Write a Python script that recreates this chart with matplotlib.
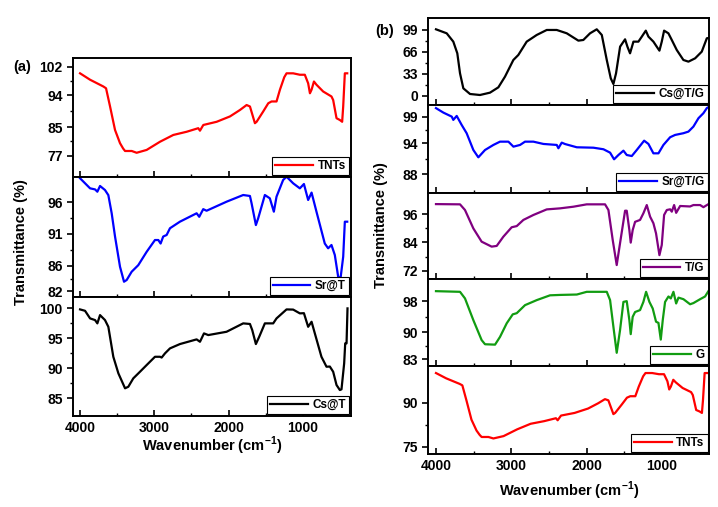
import numpy as np
import matplotlib.pyplot as plt
from matplotlib.ticker import FixedLocator, MultipleLocator

plt.rcParams['font.family'] = ['Liberation Sans', 'DejaVu Sans']
plt.rcParams['font.weight'] = 'bold'
plt.rcParams['mathtext.fontset'] = 'custom'
plt.rcParams['mathtext.bf'] = 'Liberation Sans:bold'

# espectros FTIR (numero de onda, transmitancia)
tnts_wn = [4000, 3865, 3686, 3650, 3596, 3529, 3462, 3420, 3394, 3304, 3238, 3103, 2923, 2744, 2564, 2408,
           2385, 2340, 2160, 1981, 1847, 1757, 1712, 1645, 1622, 1533, 1465, 1421, 1354, 1308, 1250, 1219,
           1130, 1040, 973, 928, 904, 882, 850, 816, 726, 614, 591, 546, 501, 470, 456, 434, 402]
tnts_t = [100.1, 98.3, 96.4, 95.9, 90.8, 84.2, 80.5, 79.0, 78.3, 78.3, 77.8, 78.6, 80.9, 82.8, 83.7, 84.7,
          84.0, 85.6, 86.5, 88.0, 89.8, 91.2, 90.8, 86.1, 86.5, 89.4, 91.7, 92.2, 92.2, 95.5, 99.0, 100.1,
          100.1, 99.7, 99.7, 97.3, 94.5, 95.5, 97.8, 96.9, 95.0, 93.6, 92.6, 87.5, 87.0, 86.5, 90.8, 100.1,
          100.1]

sr_wn = [4000, 3865, 3798, 3767, 3731, 3664, 3619, 3574, 3529, 3462, 3408, 3372, 3305, 3216, 3103, 2991,
         2946, 2915, 2880, 2834, 2789, 2655, 2430, 2395, 2341, 2296, 2027, 1803, 1712, 1690, 1632, 1601,
         1511, 1444, 1390, 1354, 1265, 1219, 1130, 1040, 985, 928, 882, 816, 704, 659, 614, 569, 524, 492,
         456, 434, 402]
sr_t = [99.75, 98.17, 98.0, 97.64, 98.54, 97.9, 97.1, 94.25, 90.6, 85.86, 83.5, 83.77, 85.07, 86.1, 88.2,
        90.05, 90.05, 89.5, 90.6, 90.84, 91.9, 92.93, 94.25, 93.7, 94.9, 94.65, 96.07, 97.12, 96.97, 95.82,
        92.4, 93.46, 97.12, 96.6, 94.5, 96.86, 99.48, 100.0, 98.96, 98.17, 98.85, 96.34, 97.5, 94.5, 89.5,
        88.75, 89.27, 87.7, 84.3, 84.04, 87.43, 92.93, 92.93]

cs_wn = [4000, 3933, 3865, 3798, 3767, 3731, 3664, 3619, 3552, 3484, 3394, 3350, 3283, 3193, 3103, 2991,
         2923, 2901, 2856, 2789, 2655, 2430, 2385, 2331, 2273, 2027, 1803, 1712, 1681, 1632, 1587, 1511,
         1399, 1354, 1219, 1130, 1040, 985, 928, 882, 838, 749, 681, 636, 591, 546, 501, 479, 443, 429,
         411, 398]
cs_t = [99.83, 99.6, 98.33, 98.05, 97.5, 98.88, 98.05, 96.93, 91.93, 89.17, 86.67, 86.93, 88.33, 89.43,
        90.55, 91.93, 91.93, 91.8, 92.5, 93.33, 94.05, 94.83, 94.43, 95.83, 95.55, 96.1, 97.5, 97.4, 96.38,
        94.05, 95.27, 97.5, 97.5, 98.33, 99.83, 99.8, 99.17, 99.2, 96.93, 97.77, 95.83, 91.93, 90.27, 90.3,
        89.43, 87.22, 86.38, 86.5, 90.83, 94.17, 94.17, 100.0]

csg_wn = [4000, 3858, 3770, 3717, 3681, 3637, 3548, 3416, 3283, 3172, 3084, 2973, 2907, 2796, 2663, 2530,
          2397, 2264, 2110, 2044, 1955, 1866, 1799, 1733, 1680, 1645, 1610, 1556, 1490, 1459, 1424, 1379,
          1313, 1268, 1215, 1180, 1114, 1070, 1034, 1003, 972, 915, 870, 804, 716, 649, 560, 472, 405, 383]
csg_t = [100, 94, 81.5, 64, 34, 11.5, 3, 1.5, 5, 13, 29, 54, 61.5, 81.5, 91.5, 99, 99, 94, 83, 84, 94, 100,
         91.5, 54, 26.5, 18, 34, 74, 85, 74, 64, 81.5, 81.5, 89, 98, 89, 81.5, 74, 68, 81.5, 98, 94, 84, 69,
         54, 51.5, 56.5, 66.5, 86.5, 87]

srg_wn = [4000, 3902, 3791, 3770, 3725, 3659, 3593, 3504, 3438, 3349, 3238, 3150, 3039, 2972, 2884, 2818,
          2707, 2574, 2397, 2375, 2331, 2286, 2131, 1910, 1777, 1689, 1636, 1578, 1512, 1468, 1401, 1335,
          1237, 1180, 1114, 1047, 981, 892, 826, 716, 649, 583, 516, 450, 405, 383]
srg_t = [100.7, 99.84, 99.07, 98.44, 99.2, 97.47, 95.88, 92.66, 91.25, 92.66, 93.63, 94.26, 94.26, 93.3,
         93.63, 94.26, 94.26, 93.82, 93.63, 92.99, 94.07, 93.8, 93.18, 93.1, 92.8, 92.15, 90.87, 91.7,
         92.53, 91.7, 91.5, 92.66, 94.45, 93.82, 92.02, 92.02, 93.63, 95.11, 95.55, 95.88, 96.19, 97.15,
         98.76, 99.73, 100.7, 100.9]

tg_wn = [4000, 3681, 3615, 3504, 3394, 3261, 3194, 3106, 2995, 2928, 2840, 2707, 2530, 2353, 2176, 1999,
         1756, 1711, 1654, 1601, 1557, 1490, 1468, 1433, 1415, 1389, 1357, 1291, 1247, 1202, 1158, 1114,
         1079, 1034, 1003, 972, 936, 892, 870, 839, 812, 759, 627, 583, 494, 450, 383]
tg_t = [100.2, 100.1, 97.7, 89.9, 84.3, 82.2, 82.5, 86.4, 90.4, 90.9, 93.5, 95.6, 97.96, 98.4, 99.1, 100.1,
        100.1, 97.7, 85, 74.4, 83.6, 97.4, 97.4, 89.2, 83.9, 89.2, 92.7, 93.5, 96.3, 99.8, 94.9, 92.1, 87.8,
        78.6, 82.9, 95.6, 97.7, 98, 97, 99.8, 96.5, 99.4, 99.2, 99.8, 99.8, 98.9, 100.2]

g_wn = [4000, 3681, 3615, 3504, 3394, 3349, 3216, 3150, 3061, 2981, 2928, 2818, 2663, 2486, 2353, 2131,
        1999, 1733, 1689, 1645, 1601, 1557, 1512, 1468, 1433, 1415, 1389, 1357, 1291, 1247, 1211, 1167,
        1123, 1079, 1047, 1016, 990, 959, 914, 883, 848, 812, 781, 715, 627, 583, 494, 428, 383]
g_t = [100.57, 100.4, 98.7, 93.1, 87.97, 86.9, 86.8, 88.8, 92.3, 94.6, 94.9, 96.97, 98.26, 99.5, 99.6,
       99.7, 100.4, 100.4, 98.26, 91.4, 84.7, 90.5, 97.8, 98.0, 93.1, 89.5, 93.96, 95.2, 95.7, 97.8, 100.4,
       97.8, 96.1, 92.7, 92.4, 88.1, 93.1, 97.8, 99.2, 98.7, 100.4, 97.4, 98.9, 98.5, 97.2, 97.5, 98.5,
       99.2, 100.6]

x_ticks = [1000, 2000, 3000, 4000]

# panel (a): (datos x, datos y, color, etiqueta, ylim, yticks)
panel_a = [
    (tnts_wn, tnts_t, 'red', 'TNTs', (71.0, 104.4), [77, 85, 94, 102]),
    (sr_wn, sr_t, 'blue', 'Sr@T', (81.1, 99.95), [82, 86, 91, 96]),
    (cs_wn, cs_t, 'black', 'Cs@T', (82.05, 101.9), [85, 90, 95, 100]),
]
panel_b = [
    (csg_wn, csg_t, 'black', 'Cs@T/G', (-13.5, 116.5), [0, 33, 66, 99]),
    (srg_wn, srg_t, 'blue', 'Sr@T/G', (84.4, 101.3), [88, 94, 99]),
    (tg_wn, tg_t, '#800080', 'T/G', (68.5, 104.9), [72, 84, 96]),
    (g_wn, g_t, '#119c11', 'G', (81.3, 103.7), [83, 90, 98]),
    (tnts_wn, tnts_t, 'red', 'TNTs', (72.5, 102.5), [75, 90]),
]

fig = plt.figure(figsize=(7.18, 5.07), dpi=100)


def dibujar(ax, wn, t, color, etiqueta, ylim, yt, xlim, ultimo):
    ax.plot(wn, t, color=color, lw=1.6, label=etiqueta)
    ax.set_xlim(*xlim)
    ax.set_ylim(*ylim)
    ax.set_yticks(yt)
    medios = [(a + b) / 2 for a, b in zip(yt[:-1], yt[1:])]
    ax.yaxis.set_minor_locator(FixedLocator(medios))
    ax.set_xticks(x_ticks)
    ax.xaxis.set_minor_locator(MultipleLocator(500))
    ax.tick_params(axis='x', which='both', direction='in', top=False)
    ax.tick_params(axis='x', which='major', length=4, width=1.2, labelsize=10)
    ax.tick_params(axis='x', which='minor', length=2, width=1)
    ax.tick_params(axis='y', which='major', direction='out', length=4, width=1.2, labelsize=10)
    ax.tick_params(axis='y', which='minor', direction='out', length=2, width=1)
    if not ultimo:
        ax.tick_params(axis='x', labelbottom=False)
    for s in ax.spines.values():
        s.set_linewidth(1.4)
    leg = ax.legend(loc='lower right', handlelength=3.2, borderaxespad=0.15,
                    fancybox=False, framealpha=1, edgecolor='black', borderpad=0.25,
                    handletextpad=0.4, prop={'weight': 'bold', 'size': 8.5})
    leg.get_frame().set_linewidth(0.8)


H = 507.0
W = 718.0
bordes_a = [58, 177, 297, 416]
for i, (wn, t, c, lab, yl, yt) in enumerate(panel_a):
    top, bot = bordes_a[i], bordes_a[i + 1]
    ax = fig.add_axes([73 / W, 1 - bot / H, (350.7 - 73) / W, (bot - top) / H])
    dibujar(ax, wn, t, c, lab, yl, yt, (4095, 355), i == len(panel_a) - 1)
    if i == len(panel_a) - 1:
        ax.set_xlabel('Wavenumber (cm$^{\\mathbf{-1}}$)', fontsize=10.5, fontweight='bold', labelpad=0)

bordes_b = [18.3, 105, 193, 279, 366, 454]
for i, (wn, t, c, lab, yl, yt) in enumerate(panel_b):
    top, bot = bordes_b[i], bordes_b[i + 1]
    ax = fig.add_axes([428.3 / W, 1 - bot / H, (709.3 - 428.3) / W, (bot - top) / H])
    dibujar(ax, wn, t, c, lab, yl, yt, (4102, 372), i == len(panel_b) - 1)
    if i == len(panel_b) - 1:
        ax.set_xlabel('Wavenumber (cm$^{\\mathbf{-1}}$)', fontsize=10.5, fontweight='bold', labelpad=5)

fig.text(21 / W, 1 - 242 / H, 'Transmittance (%)', rotation=90, ha='center', va='center',
         fontsize=10.5, fontweight='bold')
fig.text(381 / W, 1 - 225 / H, 'Transmittance (%)', rotation=90, ha='center', va='center',
         fontsize=10.5, fontweight='bold')
fig.text(22 / W, 1 - 67 / H, '(a)', ha='center', va='center', fontsize=10.5, fontweight='bold')
fig.text(385 / W, 1 - 31 / H, '(b)', ha='center', va='center', fontsize=10.5, fontweight='bold')

fig.savefig('out.png', dpi=100)
